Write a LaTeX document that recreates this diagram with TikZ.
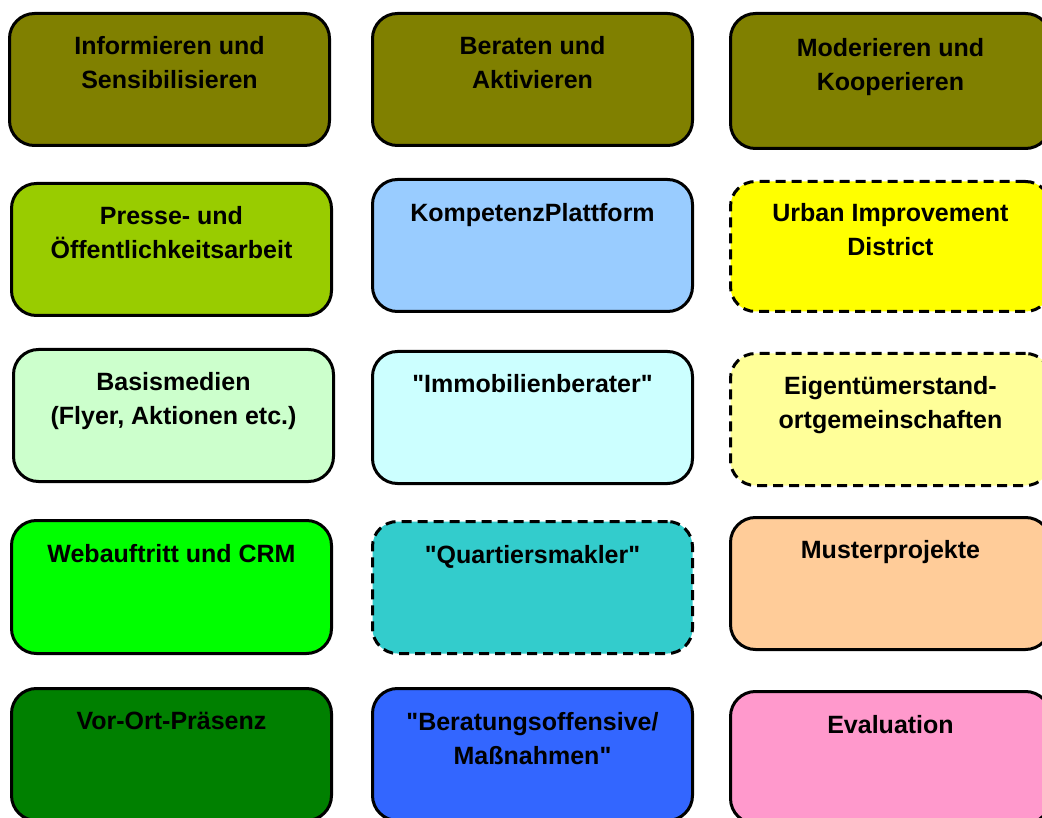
\documentclass[tikz,border=0pt]{standalone}
\usepackage{fontspec}
\setmainfont{Liberation Sans}[Ligatures=TeXOff]
\definecolor{colOlive}{HTML}{808000}
\definecolor{colPresse}{HTML}{99CC00}
\definecolor{colKomp}{HTML}{99CCFF}
\definecolor{colUID}{HTML}{FFFF00}
\definecolor{colBasis}{HTML}{CCFFCC}
\definecolor{colImmo}{HTML}{CCFFFF}
\definecolor{colEigen}{HTML}{FFFF99}
\definecolor{colWeb}{HTML}{00FF00}
\definecolor{colQuart}{HTML}{33CCCC}
\definecolor{colMuster}{HTML}{FFCC99}
\definecolor{colVor}{HTML}{008000}
\definecolor{colBerat}{HTML}{3366FF}
\definecolor{colEval}{HTML}{FF99CC}
\tikzset{
  box/.style={draw=black, line width=3pt, rounded corners=25pt, rectangle,
    minimum width=320pt, minimum height=132pt, anchor=north west, inner sep=0pt},
  dashbox/.style={box, dash pattern=on 10pt off 6pt},
  txt/.style={anchor=north, inner sep=0pt, align=center,
    font=\fontsize{25}{34}\selectfont\bfseries}
}
\begin{document}
\begin{tikzpicture}[x=1pt,y=-1pt]
\useasboundingbox (0,0) rectangle (1042,818);
% row 1
\node[box, fill=colOlive] (b11) at (8,12) {};
\node[txt] (t11) at ([yshift=-24pt]b11.north) {Informieren und\\Sensibilisieren};
\node[box, fill=colOlive] (b12) at (371,12) {};
\node[txt] (t12) at ([yshift=-24pt]b12.north) {Beraten und\\Aktivieren};
\node[box, fill=colOlive, minimum height=135pt] (b13) at (729,12) {};
\node[txt] (t13) at ([yshift=-26pt]b13.north) {Moderieren und\\Kooperieren};
% row 2
\node[box, fill=colPresse] (b21) at (10,182) {};
\node[txt] (t21) at ([yshift=-24pt]b21.north) {Presse- und\\Öffentlichkeitsarbeit};
\node[box, fill=colKomp] (b22) at (371,178) {};
\node[txt] (t22) at ([yshift=-25pt]b22.north) {KompetenzPlattform};
\node[dashbox, fill=colUID, minimum height=130pt] (b23) at (729,180) {};
\node[txt] (t23) at ([yshift=-23pt]b23.north) {Urban Improvement\\District};
% row 3
\node[box, fill=colBasis] (b31) at (12,348) {};
\node[txt] (t31) at ([yshift=-24pt]b31.north) {Basismedien\\(Flyer, Aktionen etc.)};
\node[box, fill=colImmo] (b32) at (371,350) {};
\node[txt] (t32) at ([yshift=-24pt]b32.north) {"Immobilienberater"};
\node[dashbox, fill=colEigen] (b33) at (729,352) {};
\node[txt] (t33) at ([yshift=-24pt]b33.north) {Eigentümerstand-\\ortgemeinschaften};
% row 4
\node[box, fill=colWeb, minimum height=133pt] (b41) at (10,519) {};
\node[txt] (t41) at ([yshift=-25pt]b41.north) {Webauftritt und CRM};
\node[dashbox, fill=colQuart] (b42) at (371,520) {};
\node[txt] (t42) at ([yshift=-25pt]b42.north) {"Quartiersmakler"};
\node[box, fill=colMuster] (b43) at (729,516) {};
\node[txt] (t43) at ([yshift=-24pt]b43.north) {Musterprojekte};
% row 5
\node[box, fill=colVor] (b51) at (10,687) {};
\node[txt] (t51) at ([yshift=-25pt]b51.north) {Vor-Ort-Präsenz};
\node[box, fill=colBerat] (b52) at (371,687) {};
\node[txt] (t52) at ([yshift=-25pt]b52.north) {"Beratungsoffensive/\\Maßnahmen"};
\node[box, fill=colEval] (b53) at (729,690) {};
\node[txt] (t53) at ([yshift=-25pt]b53.north) {Evaluation};
\end{tikzpicture}
\end{document}
